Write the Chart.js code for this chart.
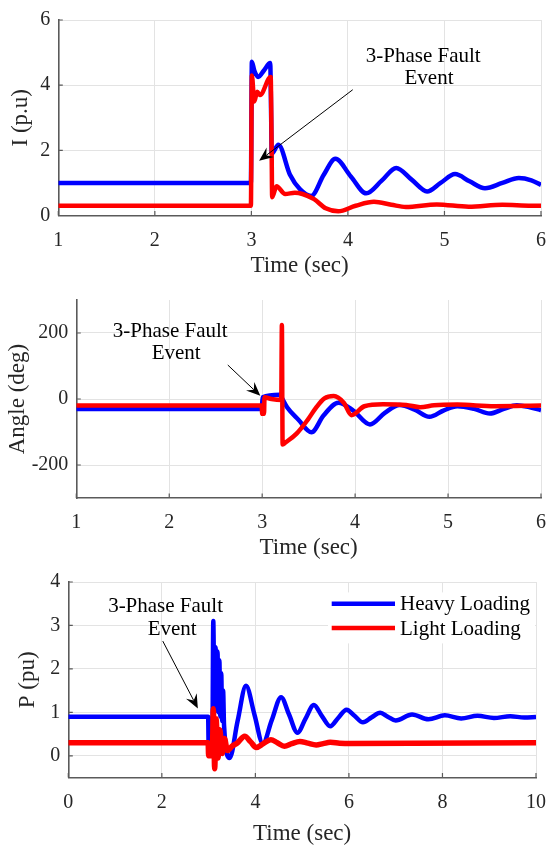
<!DOCTYPE html>
<html>
<head>
<meta charset="utf-8">
<script src="https://cdn.jsdelivr.net/npm/chart.js@4.4.1/dist/chart.umd.min.js"></script>
<style>
  html, body { margin: 0; padding: 0; background: #fff; }
  #wrap { position: relative; width: 559px; height: 848px; }
  canvas { position: absolute; left: 0; }
</style>
</head>
<body>
<div id="wrap">
  <canvas id="chartI" width="559" height="280" style="top:0px"></canvas>
  <canvas id="chartA" width="559" height="282" style="top:280px"></canvas>
  <canvas id="chartP" width="559" height="286" style="top:562px"></canvas>
</div>
<script>
// ── DATA ────────────────────────────────────────────────────
// current (p.u), 1..6 s
const iTimeHeavy = [1, 2.995, 3.005, 3.03, 3.07, 3.13, 3.195, 3.205, 3.21, 3.28, 3.40, 3.505, 3.62, 3.75, 3.87, 4.03, 4.19, 4.35, 4.50, 4.66, 4.82, 4.96, 5.11, 5.26, 5.42, 5.6, 5.77, 5.9, 6.0];
const iHeavy     = [1.0, 1.0, 4.72, 4.45, 4.25, 4.45, 4.68, 3.0, 1.9, 2.17, 1.25, 0.8, 0.6, 1.25, 1.74, 1.2, 0.68, 1.07, 1.46, 1.1, 0.74, 1.0, 1.27, 1.05, 0.84, 1.0, 1.15, 1.08, 0.94];
const iTimeLight = [1, 2.995, 3.005, 3.03, 3.06, 3.09, 3.2, 3.21, 3.215, 3.26, 3.35, 3.45, 3.53, 3.65, 3.77, 3.9, 4.08, 4.27, 4.45, 4.6, 4.92, 5.25, 5.6, 5.9, 6.0];
const iLight     = [0.3, 0.3, 4.3, 3.5, 3.8, 3.7, 4.25, 2.0, 0.56, 0.9, 0.66, 0.7, 0.66, 0.5, 0.22, 0.13, 0.3, 0.42, 0.33, 0.26, 0.34, 0.27, 0.33, 0.3, 0.3];

// angle (deg), 1..6 s
const aTimeHeavy = [1, 2.995, 3.005, 3.19, 3.21, 3.27, 3.39, 3.53, 3.66, 3.82, 3.98, 4.16, 4.32, 4.48, 4.64, 4.8, 4.95, 5.1, 5.28, 5.45, 5.6, 5.74, 5.88, 6.0];
const aHeavy     = [-30, -30, 5, 13, 4, -26, -63, -101, -50, -11, -35, -77, -42, -18, -32, -54, -35, -22, -30, -44, -30, -19, -25, -34];
const aTimeLight = [1, 2.995, 3.0, 3.02, 3.025, 3.1, 3.205, 3.212, 3.22, 3.25, 3.37, 3.49, 3.58, 3.67, 3.77, 3.88, 3.96, 4.1, 4.3, 4.55, 4.7, 4.85, 5.1, 5.5, 6.0];
const aLight     = [-20, -20, -45, -45, 5, 0, -3, 224, -138, -132, -105, -63, -26, 2, 9, -12, -49, -22, -16, -18, -25, -19, -17, -22, -20];

// power (pu), 0..10 s
const pTimeHeavy = [0, 2.99, 3.0, 3.08, 3.1, 3.125, 3.15, 3.17, 3.19, 3.21, 3.23, 3.25, 3.27, 3.29, 3.31, 3.33, 3.45, 3.62, 3.8, 3.98, 4.16, 4.35, 4.55, 4.72, 4.9, 5.07, 5.25, 5.42, 5.6, 5.77, 5.95, 6.12, 6.3, 6.48, 6.67, 6.83, 7.0, 7.35, 7.7, 8.05, 8.4, 8.75, 9.1, 9.45, 9.75, 10];
const pHeavy     = [0.9, 0.9, 0.3, 0.3, 3.1, 1.0, 2.5, 1.1, 2.4, 1.0, 2.2, 0.9, 1.9, 0.8, 1.5, 0.7, -0.05, 0.8, 1.61, 0.95, 0.28, 0.82, 1.35, 0.95, 0.53, 0.85, 1.17, 0.92, 0.68, 0.87, 1.06, 0.92, 0.77, 0.88, 0.99, 0.9, 0.81, 0.95, 0.84, 0.93, 0.86, 0.92, 0.87, 0.91, 0.88, 0.89];
const pTimeLight = [0, 2.99, 3.0, 3.08, 3.1, 3.13, 3.16, 3.2, 3.24, 3.29, 3.34, 3.4, 3.5, 3.62, 3.77, 3.9, 4.02, 4.17, 4.33, 4.47, 4.62, 4.78, 4.95, 5.12, 5.3, 5.45, 5.6, 5.8, 6.0, 10];
const pLight     = [0.3, 0.3, 0.0, 0.0, 1.08, -0.3, 0.85, -0.05, 0.6, 0.05, 0.4, 0.12, 0.22, 0.3, 0.45, 0.32, 0.19, 0.28, 0.37, 0.3, 0.22, 0.28, 0.33, 0.29, 0.25, 0.28, 0.31, 0.29, 0.28, 0.3];

const xTicksI = [1, 2, 3, 4, 5, 6];
const yTicksI = [0, 2, 4, 6];
const xTicksA = [1, 2, 3, 4, 5, 6];
const yTicksA = [-200, 0, 200];
const xTicksP = [0, 2, 4, 6, 8, 10];
const yTicksP = [0, 1, 2, 3, 4];

const seriesNames = ["Heavy Loading", "Light Loading"];

// ── STYLE ───────────────────────────────────────────────────
const BLUE = "#0000ff";
const RED = "#ff0000";
const AXIS = "#5a5a5a";
const GRID = "#e3e3e3";
const FONT = "'Liberation Serif', 'Times New Roman', serif";

const pts = (ts, vs) => ts.map((t, i) => ({ x: t, y: vs[i] }));

// ── PLUGINS ─────────────────────────────────────────────────
// MATLAB-style inward tick marks
const inwardTicks = {
  id: "inwardTicks",
  afterDraw(chart) {
    const { ctx, chartArea: a, scales: { x, y } } = chart;
    ctx.save();
    ctx.strokeStyle = AXIS;
    ctx.lineWidth = 1.2;
    ctx.beginPath();
    x.ticks.forEach(t => {
      const px = x.getPixelForValue(t.value);
      ctx.moveTo(px, a.bottom);
      ctx.lineTo(px, a.bottom - 4.5);
    });
    y.ticks.forEach(t => {
      const py = y.getPixelForValue(t.value);
      ctx.moveTo(a.left, py);
      ctx.lineTo(a.left + 4.5, py);
    });
    ctx.stroke();
    ctx.restore();
  },
};

// text + arrow ("3-Phase Fault Event"), positions in data units
const faultNote = {
  id: "faultNote",
  afterDatasetsDraw(chart, args, opts) {
    if (!opts.lines) return;
    const { ctx, scales: { x, y } } = chart;
    ctx.save();
    ctx.fillStyle = "#000";
    ctx.font = `21px ${FONT}`;
    ctx.textAlign = "center";
    ctx.textBaseline = "middle";
    opts.lines.forEach(l => ctx.fillText(l.text, x.getPixelForValue(l.x), y.getPixelForValue(l.y)));

    const x0 = x.getPixelForValue(opts.from[0]), y0 = y.getPixelForValue(opts.from[1]);
    const x1 = x.getPixelForValue(opts.to[0]), y1 = y.getPixelForValue(opts.to[1]);
    const ang = Math.atan2(y1 - y0, x1 - x0);
    const dx = Math.cos(ang), dy = Math.sin(ang);
    const len = 14, half = 6, back = 9;
    ctx.strokeStyle = "#000";
    ctx.lineWidth = 1;
    ctx.beginPath();
    ctx.moveTo(x0, y0);
    ctx.lineTo(x1 - dx * back, y1 - dy * back);
    ctx.stroke();
    ctx.beginPath();
    ctx.moveTo(x1, y1);
    ctx.lineTo(x1 - dx * len - dy * half, y1 - dy * len + dx * half);
    ctx.lineTo(x1 - dx * back, y1 - dy * back);
    ctx.lineTo(x1 - dx * len + dy * half, y1 - dy * len - dx * half);
    ctx.closePath();
    ctx.fill();
    ctx.restore();
  },
};

// legend drawn inside the plot area (white box, no border)
const lineLegend = {
  id: "lineLegend",
  beforeDatasetsDraw(chart, args, opts) {
    if (!opts.show) return;
    const { ctx, chartArea: a } = chart;
    ctx.save();
    ctx.fillStyle = "#fff";
    ctx.fillRect(a.left + opts.box[0], a.top + opts.box[1], opts.box[2], opts.box[3]);
    ctx.restore();
  },
  afterDatasetsDraw(chart, args, opts) {
    if (!opts.show) return;
    const { ctx, chartArea: a } = chart;
    ctx.save();
    ctx.font = `21px ${FONT}`;
    ctx.textBaseline = "middle";
    chart.data.datasets.forEach((ds, i) => {
      const yy = a.top + opts.rowY[i];
      ctx.strokeStyle = ds.borderColor;
      ctx.lineWidth = 4.5;
      ctx.beginPath();
      ctx.moveTo(a.left + opts.lineX[0], yy);
      ctx.lineTo(a.left + opts.lineX[1], yy);
      ctx.stroke();
      ctx.fillStyle = "#000";
      ctx.fillText(ds.label, a.left + opts.textX, yy + 1);
    });
    ctx.restore();
  },
};

// ── BUILD ───────────────────────────────────────────────────
function makeChart(id, p) {
  return new Chart(document.getElementById(id), {
    type: "line",
    data: {
      datasets: [
        { label: seriesNames[0], data: p.heavy, borderColor: BLUE, borderWidth: 4.5, order: 1 },
        { label: seriesNames[1], data: p.light, borderColor: RED, borderWidth: p.redWidth || 4.5, order: 0 },
      ],
    },
    options: {
      responsive: false,
      animation: false,
      devicePixelRatio: 1,
      events: [],
      layout: { padding: p.padding },
      elements: {
        point: { radius: 0 },
        line: { cubicInterpolationMode: "monotone", borderCapStyle: "butt", borderJoinStyle: "round" },
      },
      plugins: {
        legend: { display: false },
        tooltip: { enabled: false },
        faultNote: p.note,
        lineLegend: p.legend || { show: false },
      },
      scales: {
        x: {
          type: "linear",
          min: p.xTicks[0],
          max: p.xTicks[p.xTicks.length - 1],
          afterBuildTicks: ax => { ax.ticks = p.xTicks.map(v => ({ value: v })); },
          afterFit: ax => { ax.height = p.xHeight; },
          grid: { color: GRID, lineWidth: 1, drawTicks: false },
          border: { display: true, color: AXIS, width: 1.6 },
          ticks: { autoSkip: false, maxRotation: 0, padding: 13, color: "#262626", font: { family: FONT, size: 20 } },
          title: { display: true, text: "Time (sec)", color: "#262626", padding: { top: 0, bottom: 0 }, font: { family: FONT, size: 23 } },
        },
        y: {
          type: "linear",
          min: p.yMin,
          max: p.yMax,
          afterBuildTicks: ax => { ax.ticks = p.yTicks.map(v => ({ value: v })); },
          afterFit: ax => { ax.width = p.yWidth; },
          grid: { color: GRID, lineWidth: 1, drawTicks: false },
          border: { display: true, color: AXIS, width: 1.6 },
          ticks: { padding: 8, color: "#262626", font: { family: FONT, size: 20 } },
          title: { display: true, text: p.yTitle, color: "#262626", padding: { top: p.yTitlePad, bottom: 0 }, font: { family: FONT, size: 23 } },
        },
      },
    },
    plugins: [inwardTicks, faultNote, lineLegend],
  });
}

makeChart("chartI", {
  heavy: pts(iTimeHeavy, iHeavy),
  light: pts(iTimeLight, iLight),
  xTicks: xTicksI, yTicks: yTicksI, yMin: 0, yMax: 6,
  yTitle: "I (p.u)", yTitlePad: 7.6,
  padding: { left: 0, right: 12, top: 12.5, bottom: 0 },
  yWidth: 58.3, xHeight: 64.5,
  note: {
    lines: [{ text: "3-Phase Fault", x: 4.78, y: 4.87 }, { text: "Event", x: 4.84, y: 4.2 }],
    from: [4.05, 3.86], to: [3.08, 1.68],
  },
});

makeChart("chartA", {
  heavy: pts(aTimeHeavy, aHeavy),
  light: pts(aTimeLight, aLight),
  xTicks: xTicksA, yTicks: yTicksA, yMin: -300, yMax: 300,
  yTitle: "Angle (deg)", yTitlePad: 4.2,
  padding: { left: 0, right: 5.2, top: 3.6, bottom: 0 },
  yWidth: 76.3, xHeight: 64,
  note: {
    lines: [{ text: "3-Phase Fault", x: 2.01, y: 204 }, { text: "Event", x: 2.075, y: 137 }],
    from: [2.63, 103], to: [2.98, 9.5],
  },
});

makeChart("chartP", {
  heavy: pts(pTimeHeavy, pHeavy),
  light: pts(pTimeLight, pLight),
  redWidth: 5.5,
  xTicks: xTicksP, yTicks: yTicksP, yMin: -0.5, yMax: 4,
  yTitle: "P (pu)", yTitlePad: 14,
  padding: { left: 0, right: 12, top: 14.6, bottom: 0 },
  yWidth: 68.3, xHeight: 70.5,
  note: {
    lines: [{ text: "3-Phase Fault", x: 2.08, y: 3.44 }, { text: "Event", x: 2.22, y: 2.9 }],
    from: [2.02, 2.64], to: [2.77, 1.09],
  },
  legend: { show: true, box: [259.7, 10.4, 207, 51], lineX: [263.4, 326.7], rowY: [21.7, 46.1], textX: 331.7 },
});
</script>
</body>
</html>
